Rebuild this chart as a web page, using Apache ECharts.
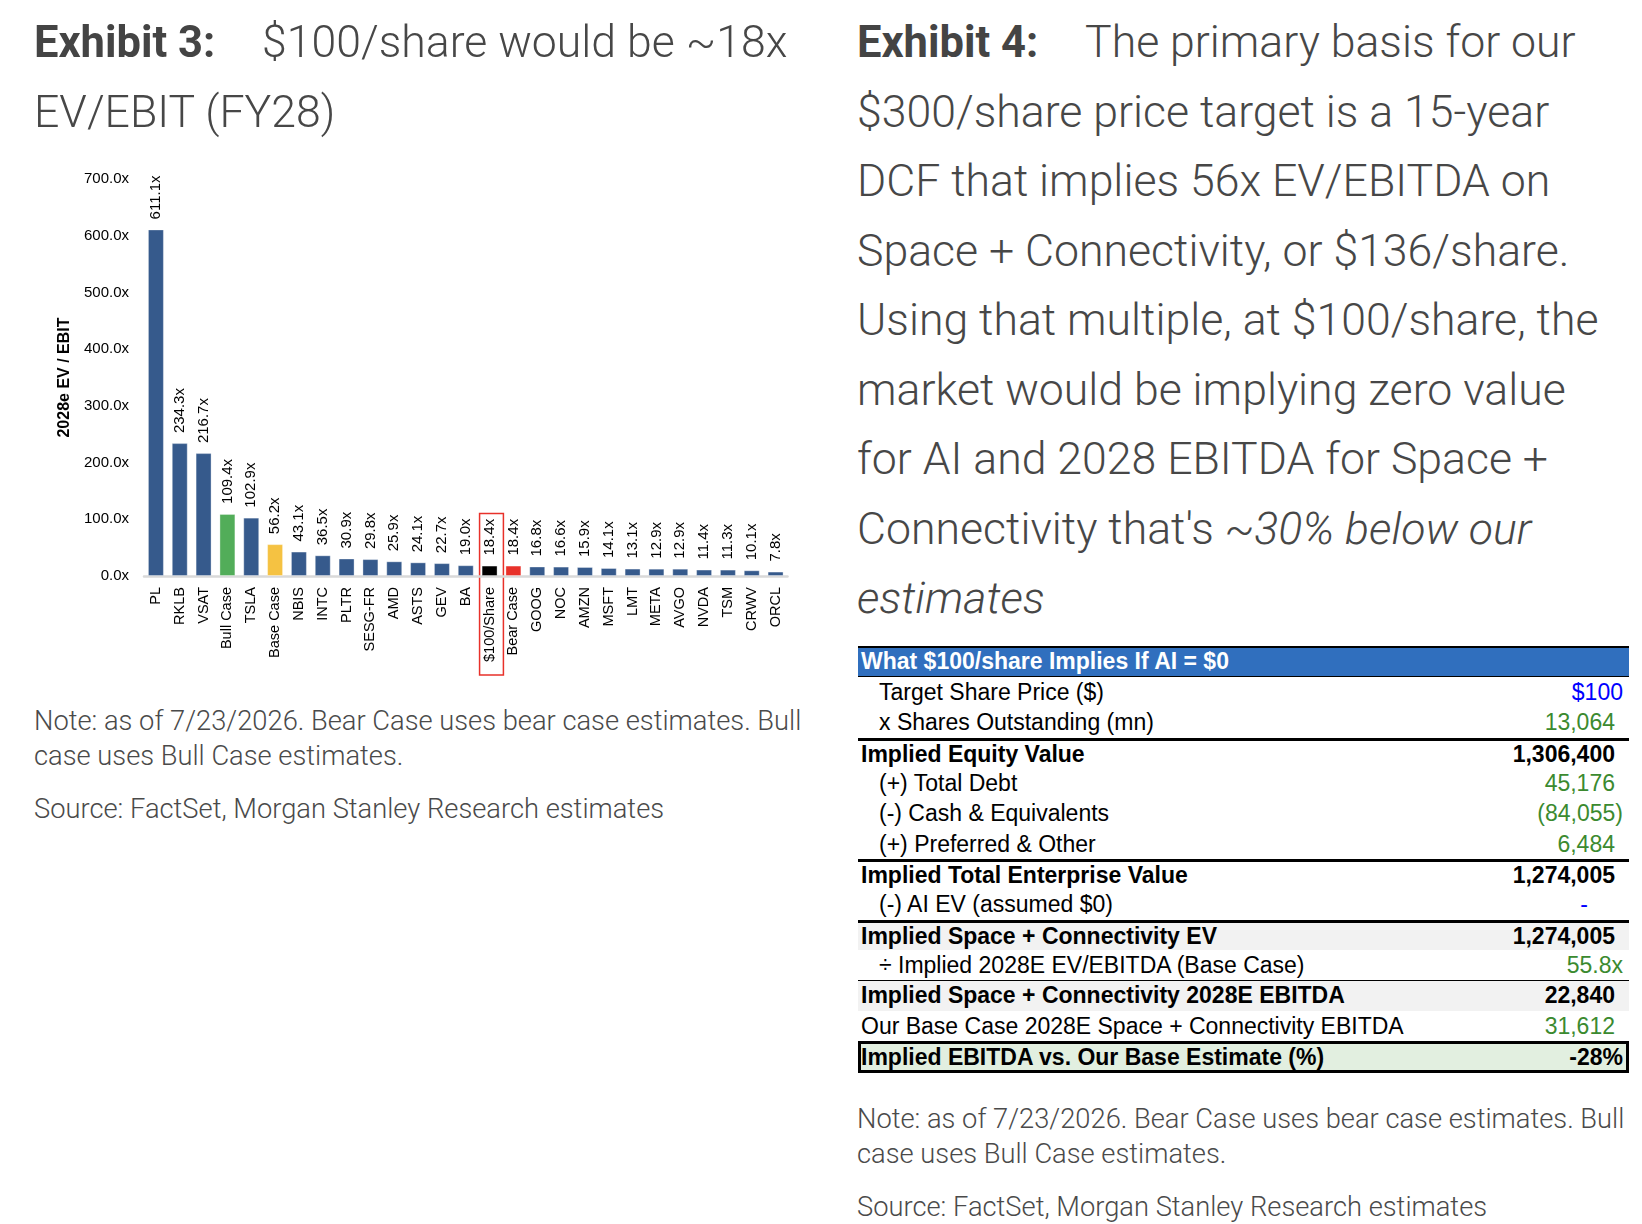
<!DOCTYPE html>
<html>
<head>
<meta charset="utf-8">
<script src="https://cdn.jsdelivr.net/npm/echarts@6/dist/echarts.min.js"></script>
<style>
  html, body { margin: 0; padding: 0; background: #fff; }
  body { width: 1642px; height: 1224px; position: relative; overflow: hidden; }
  #chart { position: absolute; left: 0; top: 0; width: 821px; height: 700px; }
  .title { position: absolute; top: 8px; font-family: "Roboto Light", Roboto, sans-serif; font-weight: 300;
           font-size: 44.6px; line-height: 69.5px; color: #474747; white-space: nowrap; }
  .title b { font-family: Roboto, sans-serif; font-weight: 700; font-size: 43.5px; color: #444;
             display: inline-block; width: 228px; }
  .note { position: absolute; font-family: "Roboto Light", Roboto, sans-serif; font-weight: 300;
          font-size: 27.3px; line-height: 35px; color: #4a4a4a; white-space: nowrap; }
  .note p { margin: 0; }
  .note p + p { margin-top: 18px; }
  #table { position: absolute; left: 858px; top: 646px; width: 771px;
           font-family: "Liberation Sans", Arial, sans-serif; font-size: 23px; color: #000; }
  #table .row { position: absolute; left: 0; width: 771px; box-sizing: border-box; white-space: nowrap; }
  #table .lab { position: absolute; top: 0; }
  #table .val { position: absolute; top: 0; }
</style>
</head>
<body>
<div id="chart"></div>

<div class="title" style="left:34px">
  <b>Exhibit 3:</b>$100/share would be ~18x<br>EV/EBIT (FY28)
</div>

<div class="title" style="left:857px">
  <b>Exhibit 4:</b>The primary basis for our<br>
  $300/share price target is a 15-year<br>
  DCF that implies 56x EV/EBITDA on<br>
  Space + Connectivity, or $136/share.<br>
  Using that multiple, at $100/share, the<br>
  market would be implying zero value<br>
  for AI and 2028 EBITDA for Space +<br>
  Connectivity that's <i>~30% below our</i><br>
  <i>estimates</i>
</div>

<div class="note" style="left:34px; top:704px">
  <p>Note: as of 7/23/2026. Bear Case uses bear case estimates. Bull<br>case uses Bull Case estimates.</p>
  <p>Source: FactSet, Morgan Stanley Research estimates</p>
</div>

<div class="note" style="left:857px; top:1102px">
  <p>Note: as of 7/23/2026. Bear Case uses bear case estimates. Bull<br>case uses Bull Case estimates.</p>
  <p>Source: FactSet, Morgan Stanley Research estimates</p>
</div>

<div id="table"></div>

<script>
// ---- Exhibit 3 data: 2028e EV / EBIT
const categories = ["PL", "RKLB", "VSAT", "Bull Case", "TSLA", "Base Case", "NBIS", "INTC", "PLTR",
  "SESG-FR", "AMD", "ASTS", "GEV", "BA", "$100/Share", "Bear Case", "GOOG", "NOC", "AMZN", "MSFT",
  "LMT", "META", "AVGO", "NVDA", "TSM", "CRWV", "ORCL"];
const multiples = [611.1, 234.3, 216.7, 109.4, 102.9, 56.2, 43.1, 36.5, 30.9,
  29.8, 25.9, 24.1, 22.7, 19.0, 18.4, 18.4, 16.8, 16.6, 15.9, 14.1,
  13.1, 12.9, 12.9, 11.4, 11.3, 10.1, 7.8];
const yTicks = [0, 100, 200, 300, 400, 500, 600, 700];
const boxedCategory = "$100/Share";

// ---- Exhibit 4 data: what $100/share implies
const tableTitle = "What $100/share Implies If AI = $0";
const rowLabels = ["Target Share Price ($)", "x Shares Outstanding (mn)", "Implied Equity Value",
  "(+) Total Debt", "(-) Cash & Equivalents", "(+) Preferred & Other", "Implied Total Enterprise Value",
  "(-) AI EV (assumed $0)", "Implied Space + Connectivity EV", "÷ Implied 2028E EV/EBITDA (Base Case)",
  "Implied Space + Connectivity 2028E EBITDA", "Our Base Case 2028E Space + Connectivity EBITDA",
  "Implied EBITDA vs. Our Base Estimate (%)"];
const rowValues = ["$100", "13,064", "1,306,400", "45,176", "(84,055)", "6,484", "1,274,005",
  "-", "1,274,005", "55.8x", "22,840", "31,612", "-28%"];

// styles (kept apart from the values)
const barColors = { "Bull Case": "#52ad59", "Base Case": "#f5c242", "$100/Share": "#000000", "Bear Case": "#e8312a" };
const defaultBar = "#365a8c";
const blue = "#0000ff", green = "#3b8a2f";
const rowIndent = [1, 1, 0, 1, 1, 1, 0, 1, 0, 1, 0, 0, 0];
const rowBold = [0, 0, 1, 0, 0, 0, 1, 0, 1, 0, 1, 0, 1];
const rowColor = [blue, green, "#000", green, green, green, "#000", blue, "#000", green, "#000", green, "#000"];
const rowFill = [null, null, null, null, null, null, null, null, "#f2f2f2", null, "#f2f2f2", null, "#e2efe0"];
const rowRule = [0, 0, 3, 0, 0, 0, 3, 0, 3, 0, 1.5, 0, 0];
const valInset = [6, 14, 14, 14, 6, 14, 14, 41, 14, 6, 14, 14, 6];

const chart = echarts.init(document.getElementById("chart"));
const font = "Liberation Sans, Arial, sans-serif";

chart.setOption({
  animation: false,
  grid: { left: 144, top: 179, width: 643.5, height: 397, outerBoundsMode: "none" },
  xAxis: {
    type: "category",
    data: categories,
    axisTick: { show: false },
    axisLine: { lineStyle: { color: "#d9d9d9", width: 2.5 } },
    axisLabel: { interval: 0, rotate: 90, margin: 11, fontSize: 14.5, color: "#000", fontFamily: font }
  },
  yAxis: {
    type: "value",
    min: yTicks[0],
    max: yTicks[yTicks.length - 1],
    interval: yTicks[1] - yTicks[0],
    name: "2028e EV / EBIT",
    nameLocation: "middle",
    nameGap: 66,
    nameTextStyle: { fontSize: 16, fontWeight: "bold", color: "#000", fontFamily: font },
    splitLine: { show: false },
    axisLine: { show: false },
    axisTick: { show: false },
    axisLabel: { margin: 15, fontSize: 15, color: "#000", fontFamily: font,
      formatter: v => v.toFixed(1) + "x" }
  },
  series: [{
    type: "bar",
    barCategoryGap: "33%",
    data: categories.map((c, i) => ({
      value: multiples[i],
      itemStyle: { color: barColors[c] || defaultBar, borderColor: "rgba(255,255,255,0.35)", borderWidth: 1 }
    })),
    label: {
      show: true,
      position: "top",
      distance: 10,
      rotate: 90,
      align: "left",
      verticalAlign: "middle",
      fontSize: 15,
      color: "#000",
      fontFamily: font,
      formatter: p => p.value.toFixed(1) + "x"
    }
  }]
});

// red box round the $100/share column
const bi = categories.indexOf(boxedCategory);
const barTop = chart.convertToPixel({ gridIndex: 0 }, [bi, multiples[bi]]);
const step = chart.convertToPixel({ xAxisIndex: 0 }, 1) - chart.convertToPixel({ xAxisIndex: 0 }, 0);
const baseY = chart.convertToPixel({ yAxisIndex: 0 }, 0);
chart.setOption({
  graphic: [{
    type: "rect",
    shape: { x: barTop[0] - step * 0.42, y: barTop[1] - 52, width: step, height: baseY + 99 - (barTop[1] - 52) },
    style: { fill: "none", stroke: "#e8312a", lineWidth: 1.5 }
  }]
});

// ---- table
const tbl = document.getElementById("table");
const rowH = 30.33, headH = 31;
let html = '<div class="row" style="top:0;height:' + headH + 'px;background:#306fbe;border-top:2px solid #000;' +
  'border-bottom:1.5px solid #000;color:#fff;font-weight:bold;line-height:' + (headH - 3.5) + 'px">' +
  '<span class="lab" style="left:3px">' + tableTitle + '</span></div>';
rowLabels.forEach((lab, i) => {
  const t = headH + i * rowH;
  const last = i === rowLabels.length - 1;
  let st = 'top:' + t + 'px;height:' + rowH + 'px;line-height:' + rowH + 'px;';
  if (rowFill[i]) st += 'background:' + rowFill[i] + ';';
  if (rowRule[i]) st += 'border-top:' + rowRule[i] + 'px solid #000;line-height:' + (rowH - rowRule[i]) + 'px;';
  if (last) st += 'border:3px solid #000;height:' + (rowH + 2) + 'px;line-height:' + (rowH - 4) + 'px;';
  if (rowBold[i]) st += 'font-weight:bold;';
  html += '<div class="row" style="' + st + '">' +
    '<span class="lab" style="left:' + ((rowIndent[i] ? 21 : 3) - (last ? 3 : 0)) + 'px">' +
    lab.replace(/&/g, "&amp;") + '</span>' +
    '<span class="val" style="right:' + (valInset[i] - (last ? 3 : 0)) + 'px;color:' + rowColor[i] + '">' +
    rowValues[i] + '</span></div>';
});
tbl.innerHTML = html;
</script>
</body>
</html>
